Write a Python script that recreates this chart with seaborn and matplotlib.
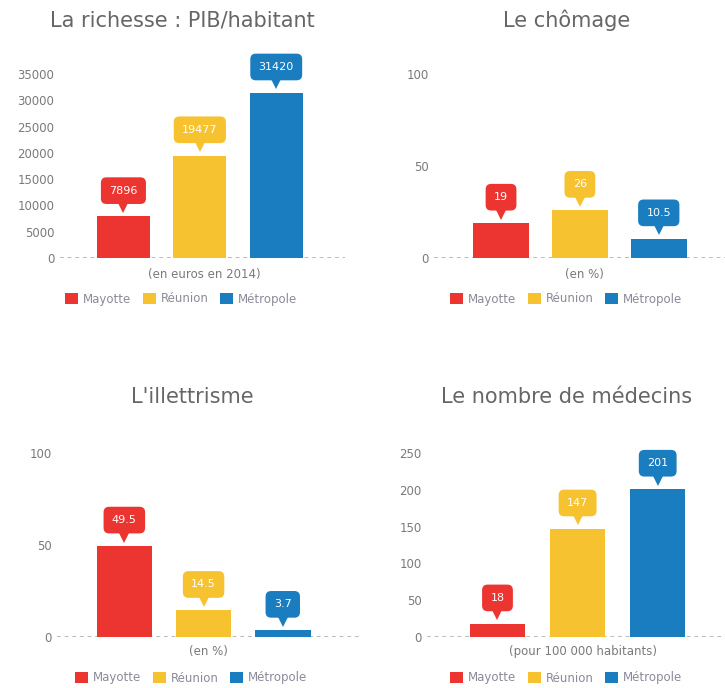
import matplotlib
matplotlib.use("Agg")
import matplotlib.pyplot as plt
import matplotlib.transforms as mtransforms
from matplotlib.patches import Patch
import seaborn as sns
import pandas as pd

# ---- data ----
categories = ["Mayotte", "Réunion", "Métropole"]
pib = [7896, 19477, 31420]
chomage = [19, 26, 10.5]
illettrisme = [49.5, 14.5, 3.7]
medecins = [18, 147, 201]

titles = ["La richesse : PIB/habitant", "Le chômage", "L'illettrisme", "Le nombre de médecins"]
subtitles = ["(en euros en 2014)", "(en %)", "(en %)", "(pour 100 000 habitants)"]
ticks_pib = [0, 5000, 10000, 15000, 20000, 25000, 30000, 35000]
ticks_pct = [0, 50, 100]
ticks_med = [0, 50, 100, 150, 200, 250]

colors = ["#EC3530", "#F7C22F", "#1A7DC0"]

sns.set_theme(style="white")
plt.rcParams["font.family"] = ["DejaVu Sans"]

W, H = 725, 688
fig = plt.figure(figsize=(W / 100, H / 100), dpi=100)


def rect(x0, x1, ytop, ybot):
    return [x0 / W, 1 - ybot / H, (x1 - x0) / W, (ybot - ytop) / H]


panels = [
    dict(values=pib, ticks=ticks_pib, ax=rect(60, 345, 74, 258), xlim=(-0.83, 2.90), width=0.69,
         title=(182, 20), sub=(204, 275), leg=(181, 299)),
    dict(values=chomage, ticks=ticks_pct, ax=rect(434, 725, 74, 258), xlim=(-0.85, 2.84), width=0.71,
         title=(567, 20), sub=(584, 275), leg=(566, 299)),
    dict(values=illettrisme, ticks=ticks_pct, ax=rect(57, 362, 453, 637), xlim=(-0.85, 3.0), width=0.70,
         title=(192, 397), sub=(208, 652), leg=(191, 678)),
    dict(values=medecins, ticks=ticks_med, ax=rect(427, 725, 453, 637), xlim=(-0.88, 2.84), width=0.69,
         title=(567, 397), sub=(583, 652), leg=(566, 678)),
]

for i, p in enumerate(panels):
    ax = fig.add_axes(p["ax"])
    df = pd.DataFrame({"cat": categories, "value": p["values"]})
    sns.barplot(data=df, x="cat", y="value", hue="cat", palette=colors, hue_order=categories,
                order=categories, saturation=1, width=p["width"], legend=False, ax=ax,
                linewidth=0, edgecolor="none", zorder=2)
    ax.set_xlim(*p["xlim"])
    ax.set_ylim(p["ticks"][0], p["ticks"][-1])
    ax.set_yticks(p["ticks"])
    ax.set_yticklabels([str(t) for t in p["ticks"]])
    ax.set_xticks([])
    ax.set_xlabel("")
    ax.set_ylabel("")
    for s in ax.spines.values():
        s.set_visible(False)
    ax.tick_params(axis="y", length=0, pad=4, labelsize=8.5, labelcolor="#7a7a7a")
    ax.axhline(0, color="#a8a8a8", lw=1.1, ls=(0, (2.5, 2.5)), zorder=1)
    ax.patch.set_alpha(0)

    # callouts
    tri_tr = mtransforms.offset_copy(ax.transData, fig=fig, y=6.0, units="points")
    txt_tr = mtransforms.offset_copy(ax.transData, fig=fig, y=15.0, units="points")
    for j, v in enumerate(p["values"]):
        ax.plot([j], [v], marker="v", markersize=7, color=colors[j], transform=tri_tr,
                clip_on=False, zorder=4, markeredgewidth=0)
        ax.text(j, v, f"{v:g}", transform=txt_tr, ha="center", va="bottom", fontsize=8,
                color="white", clip_on=False, zorder=5,
                bbox=dict(boxstyle="round,pad=0.75,rounding_size=0.5", fc=colors[j], ec="none"))

    fig.text(p["title"][0] / W, 1 - p["title"][1] / H, titles[i], ha="center", va="center",
             fontsize=15, color="#666666")
    fig.text(p["sub"][0] / W, 1 - p["sub"][1] / H, subtitles[i], ha="center", va="center",
             fontsize=8.5, color="#7a7a7a")
    handles = [Patch(facecolor=c, edgecolor="none", label=l) for c, l in zip(colors, categories)]
    leg = fig.legend(handles=handles, loc="center", ncol=3, frameon=False, fontsize=8.5,
                     bbox_to_anchor=(p["leg"][0] / W, 1 - p["leg"][1] / H),
                     bbox_transform=fig.transFigure, handlelength=1.1, handleheight=1.1,
                     handletextpad=0.4, columnspacing=1.0, borderpad=0)
    for t in leg.get_texts():
        t.set_color("#8a8a9a")

fig.savefig("out.png", dpi=100)
